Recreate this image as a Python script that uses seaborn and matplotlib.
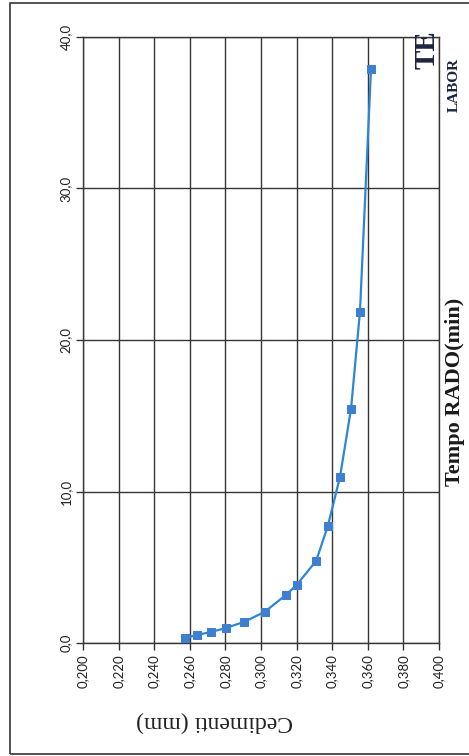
import matplotlib
matplotlib.use("Agg")
import matplotlib.pyplot as plt
import seaborn as sns
import pandas as pd
from matplotlib.patches import Rectangle

# Data
cedimenti = [0.2573, 0.2640, 0.2720, 0.2803, 0.2904, 0.3020, 0.3140, 0.3200,
             0.3310, 0.3376, 0.3444, 0.3506, 0.3556, 0.3618]
tempo = [0.33, 0.53, 0.73, 0.99, 1.39, 2.05, 3.17, 3.83,
         5.42, 7.74, 10.98, 15.47, 21.88, 37.88]
x_ticks = [0.200, 0.220, 0.240, 0.260, 0.280, 0.300, 0.320, 0.340, 0.360, 0.380, 0.400]
y_ticks = [0.0, 10.0, 20.0, 30.0, 40.0]
x_label = "Cedimenti (mm)"
y_label = "Tempo RADO(min)"

df = pd.DataFrame({"cedimenti": cedimenti, "tempo": tempo})

sns.set_style("white")
fig = plt.figure(figsize=(4.69, 7.56), dpi=100)
ax = fig.add_axes([83/469, (756-643)/756, (439-83)/469, (643-37)/756])

sns.lineplot(data=df, x="cedimenti", y="tempo", sort=False, ax=ax,
             color="#2b86d8", linewidth=1.6, marker="s", markersize=6,
             markerfacecolor="#3f7fcf", markeredgecolor="#3f7fcf", zorder=5)

ax.set_xlim(0.200, 0.400)
ax.set_ylim(0.0, 40.0)
ax.set_xticks(x_ticks)
ax.set_yticks(y_ticks)
ax.set_xticklabels([f"{v:.3f}".replace(".", ",") for v in x_ticks],
                   rotation=90, fontsize=9.5, family="Lato", color="#222222")
ax.set_yticklabels([f"{v:.1f}".replace(".", ",") for v in y_ticks],
                   rotation=90, va="center", fontsize=9.5, family="Lato", color="#222222")
ax.tick_params(axis="both", direction="out", length=5, width=1, color="#333333",
               bottom=True, left=True, pad=3)
ax.grid(True, color="#3a3434", linewidth=1.0)
for s in ax.spines.values():
    s.set_color("#3a3434")
    s.set_linewidth(1.0)
ax.set_xlabel("")
ax.set_ylabel("")

fig.text(215/469, 1 - 722/756, x_label, rotation=180, ha="center", va="center",
         fontsize=17, family="Liberation Serif", color="#222222")
fig.text(455/469, 1 - 392/756, y_label, rotation=90, ha="center", va="center",
         fontsize=16, family="Liberation Serif", fontweight="bold", color="#1a1a1a")
fig.text(427/469, 1 - 50/756, "TE", rotation=90, ha="center", va="center",
         fontsize=21, family="Liberation Serif", fontweight="bold", color="#1c2240")
fig.text(454/469, 1 - 85/756, "LABOR", rotation=90, ha="center", va="center",
         fontsize=11, family="Liberation Serif", fontweight="bold", color="#1c2240")

fig.patches.append(Rectangle((10/469, 1 - 754/756), 470/469, 751/756,
                             transform=fig.transFigure, fill=False,
                             edgecolor="#3a3434", linewidth=1.2))

fig.savefig("out.png", dpi=100)
